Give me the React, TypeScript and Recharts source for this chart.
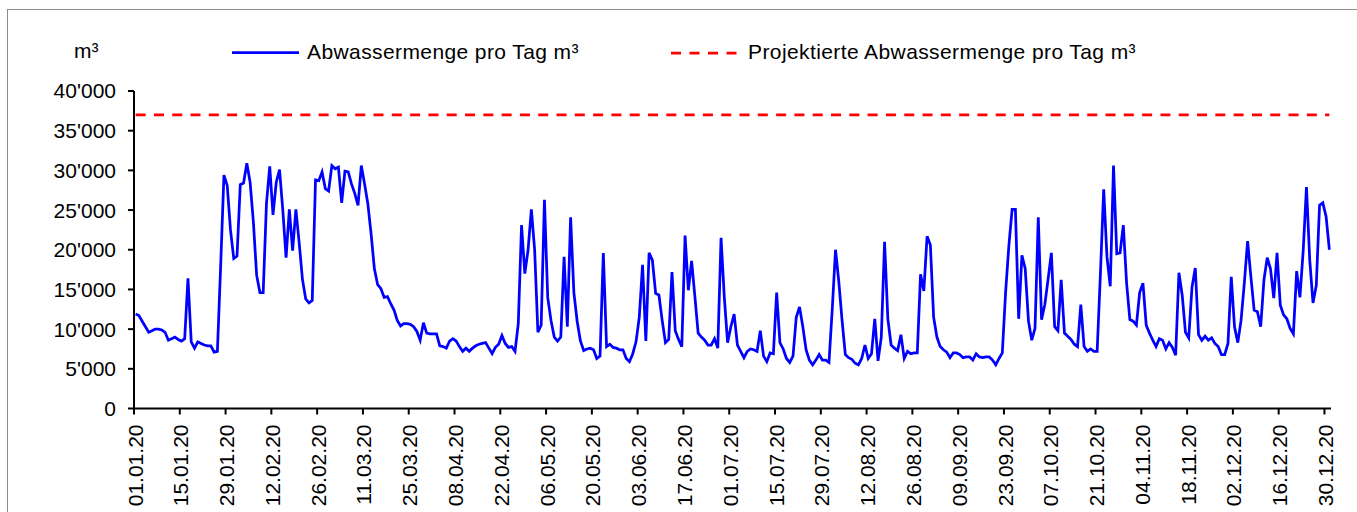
import React from "react";
import { LineChart, Line, XAxis, YAxis } from "recharts";

// Daily wastewater volume 2020 in m³, one array per month
const jan = [11900, 11700, 11000, 10300, 9600, 9800, 10000, 10000, 9900, 9600, 8600, 8800, 9000, 8700, 8500, 8800, 16400, 8400, 7600, 8400, 8200, 8000, 7900, 7900, 7100, 7200, 18000, 29400, 28100, 22500, 18900];
const feb = [19200, 28200, 28400, 30900, 28500, 23500, 16800, 14600, 14600, 25800, 30500, 24400, 28500, 30100, 25000, 19000, 25100, 19900, 25100, 20900, 16300, 13800, 13300, 13600, 28800, 28700, 29800, 27700, 27400];
const mar = [30600, 30200, 30400, 25900, 29900, 29800, 28300, 27100, 25600, 30600, 28300, 25800, 22000, 17600, 15600, 15100, 14000, 14100, 13200, 12400, 11100, 10400, 10700, 10700, 10600, 10300, 9700, 8600, 10800, 9500, 9400];
const apr = [9400, 9400, 7900, 7800, 7600, 8500, 8800, 8500, 7800, 7200, 7600, 7200, 7600, 7900, 8100, 8200, 8300, 7600, 6900, 7700, 8100, 9200, 8200, 7700, 7800, 7200, 10700, 23100, 17000, 20000];
const may = [25100, 20000, 9600, 10500, 26300, 14000, 11100, 9000, 8500, 9000, 19100, 10300, 24100, 14600, 11000, 8500, 7300, 7500, 7600, 7400, 6300, 6600, 19600, 7800, 8100, 7700, 7600, 7400, 7400, 6300, 5900];
const jun = [6900, 8400, 11500, 18100, 8500, 19600, 18700, 14500, 14300, 11100, 8300, 8700, 17200, 9800, 8700, 7800, 21800, 14900, 18600, 14100, 9500, 9000, 8600, 8000, 8000, 8800, 7600, 21500, 14000, 8300];
const jul = [10300, 11900, 8000, 7200, 6400, 7200, 7500, 7400, 7200, 9800, 6600, 5900, 7000, 6900, 14600, 8300, 7500, 6300, 5800, 6600, 11500, 12800, 10300, 7400, 6100, 5500, 6100, 6800, 6100, 6100, 5800];
const aug = [12500, 20000, 16000, 11100, 6800, 6400, 6200, 5700, 5500, 6300, 8000, 6300, 6900, 11300, 6000, 9000, 21000, 11300, 8000, 7600, 7300, 9300, 6300, 7200, 6900, 7000, 7000, 16900, 14800, 21700, 20600];
const sep = [11500, 9000, 7800, 7400, 7100, 6400, 7000, 7000, 6800, 6400, 6500, 6500, 6100, 6900, 6500, 6400, 6500, 6500, 6100, 5500, 6300, 7000, 14600, 20500, 25100, 25100, 11300, 19300, 17600, 11000];
const oct = [8600, 10100, 24100, 11200, 13100, 16300, 19600, 10300, 9800, 16200, 9500, 9100, 8700, 8100, 7800, 13100, 7800, 7200, 7500, 7200, 7200, 17000, 27600, 19100, 15400, 30600, 19500, 19600, 23100, 15800, 11200];
const nov = [11000, 10500, 14600, 15800, 10500, 9500, 8600, 7800, 8800, 8600, 7500, 8300, 7700, 6700, 17100, 14300, 9600, 8900, 15300, 17700, 9300, 8600, 9100, 8600, 8900, 8200, 7800, 6800, 6800, 8200];
const dec = [16600, 10300, 8300, 11100, 15800, 21100, 16600, 12400, 12200, 10300, 16200, 19000, 17600, 13900, 19600, 13000, 11800, 11300, 10100, 9400, 17300, 14000, 19900, 27900, 18700, 13300, 15500, 25600, 25900, 24200, 20000];

const daily = [...jan, ...feb, ...mar, ...apr, ...may, ...jun, ...jul, ...aug, ...sep, ...oct, ...nov, ...dec];

const projected = 37000;

// every 14th day gets a label
const tickDays = [0, 14, 28, 42, 56, 70, 84, 98, 112, 126, 140, 154, 168, 182, 196, 210, 224, 238, 252, 266, 280, 294, 308, 322, 336, 350, 364];
const tickLabels = ["01.01.20", "15.01.20", "29.01.20", "12.02.20", "26.02.20", "11.03.20", "25.03.20", "08.04.20", "22.04.20", "06.05.20", "20.05.20", "03.06.20", "17.06.20", "01.07.20", "15.07.20", "29.07.20", "12.08.20", "26.08.20", "09.09.20", "23.09.20", "07.10.20", "21.10.20", "04.11.20", "18.11.20", "02.12.20", "16.12.20", "30.12.20"];

const yTicks = [0, 5000, 10000, 15000, 20000, 25000, 30000, 35000, 40000];

const FONT = "'Liberation Sans', Arial, sans-serif";
const BLUE = "#0000ff";
const RED = "#ff0000";

const rows = daily.map((v, i) => ({ x: i + 0.5, flow: v, proj: projected }));

const fmtThousands = (v: number) => (v === 0 ? "0" : `${v / 1000}'000`);

const DateTick = (props: any) => {
  const { x, y, payload } = props;
  const idx = tickDays.indexOf(payload.value);
  return (
    <text
      transform={`translate(${x + 1},${y + 8}) rotate(-90)`}
      textAnchor="end"
      dy="0.36em"
      fontSize={21}
      fontFamily={FONT}
      fill="#000"
    >
      {tickLabels[idx]}
    </text>
  );
};

const legendText: React.CSSProperties = {
  position: "absolute",
  top: 39,
  fontSize: 21,
  lineHeight: "26px",
  letterSpacing: 0.4,
  whiteSpace: "nowrap",
};

export default function App() {
  return (
    <div
      style={{
        position: "absolute",
        left: 0,
        top: 0,
        width: 1357,
        height: 512,
        overflow: "hidden",
        background: "#fff",
        fontFamily: FONT,
      }}
    >
      <div
        style={{
          position: "absolute",
          left: 7,
          top: 9,
          width: 1400,
          height: 600,
          border: "1px solid #8c8c8c",
        }}
      />

      {/* unit + legend */}
      <div style={{ position: "absolute", left: 74, top: 38, fontSize: 21, lineHeight: "26px" }}>m³</div>
      <svg style={{ position: "absolute", left: 0, top: 0 }} width={1357} height={80}>
        <line x1={232} y1={52.5} x2={299} y2={52.5} stroke={BLUE} strokeWidth={2.75} />
        <line x1={671} y1={53} x2={737} y2={53} stroke={RED} strokeWidth={2.75} strokeDasharray="10 8.5" />
      </svg>
      <div style={{ ...legendText, left: 307 }}>Abwassermenge pro Tag m³</div>
      <div style={{ ...legendText, left: 748 }}>Projektierte Abwassermenge pro Tag m³</div>

      <div style={{ position: "absolute", left: 0, top: 0 }}>
        <LineChart width={1357} height={512} data={rows} margin={{ top: 91, right: 26, bottom: 0, left: 0 }}>
          <XAxis
            type="number"
            dataKey="x"
            domain={[0, 366]}
            ticks={tickDays}
            interval={0}
            height={103.5}
            tick={<DateTick />}
            tickSize={6}
            axisLine={{ stroke: "#000", strokeWidth: 2 }}
            tickLine={{ stroke: "#000", strokeWidth: 2 }}
          />
          <YAxis
            type="number"
            domain={[0, 40000]}
            ticks={yTicks}
            interval={0}
            width={134}
            tickFormatter={fmtThousands}
            tickSize={6}
            tickMargin={12}
            axisLine={{ stroke: "#000", strokeWidth: 2 }}
            tickLine={{ stroke: "#000", strokeWidth: 2 }}
            tick={{ fill: "#000", fontSize: 21, fontFamily: FONT }}
          />
          <Line
            type="linear"
            dataKey="proj"
            stroke={RED}
            strokeWidth={2.75}
            strokeDasharray="10 8.3"
            dot={false}
            activeDot={false}
            isAnimationActive={false}
          />
          <Line
            type="linear"
            dataKey="flow"
            stroke={BLUE}
            strokeWidth={2.75}
            strokeLinejoin="miter"
            dot={false}
            activeDot={false}
            isAnimationActive={false}
          />
        </LineChart>
      </div>
    </div>
  );
}
